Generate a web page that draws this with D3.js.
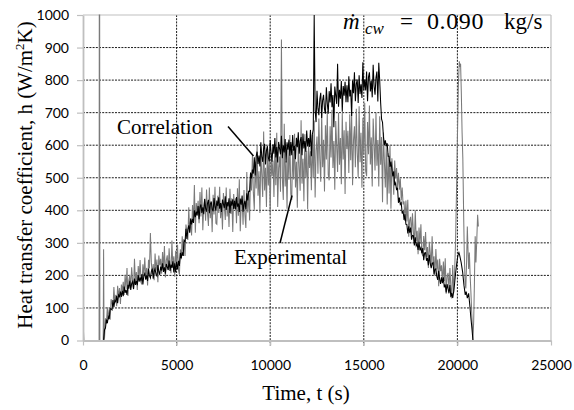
<!DOCTYPE html>
<html>
<head>
<meta charset="utf-8">
<script src="https://cdn.jsdelivr.net/npm/d3@7"></script>
<style>
  body { margin: 0; background: #fff; }
  svg { display: block; }
  .serif { font-family: 'Liberation Serif', 'DejaVu Serif', serif; }
</style>
</head>
<body>
<script>
const w = 574, h = 410;

// logged at a fixed 50 s interval
const sampleStep = 50;

const xTicks = [0, 5000, 10000, 15000, 20000, 25000];
const yTicks = [0, 100, 200, 300, 400, 500, 600, 700, 800, 900, 1000];

// Correlation, from t = 1100 s
const correlationStart = 1100;
const correlation = [
  2, 33, 38, 64, 53, 73, 66, 98, 97, 94, 124, 102, 123, 119, 137, 115, 140, 135, 150, 134,
  153, 136, 166, 146, 156, 140, 171, 159, 184, 155, 175, 181, 158, 190, 171, 183, 170, 201, 181, 194,
  182, 204, 172, 200, 206, 187, 200, 183, 221, 199, 192, 212, 221, 190, 212, 220, 203, 198, 232, 212,
  202, 227, 215, 237, 211, 225, 205, 235, 226, 217, 246, 214, 233, 223, 243, 209, 237, 210, 242, 218,
  245, 229, 269, 253, 271, 260, 308, 304, 343, 312, 341, 354, 331, 375, 357, 374, 361, 400, 379, 396,
  384, 413, 373, 409, 418, 392, 409, 388, 435, 406, 396, 421, 432, 391, 418, 427, 404, 397, 438, 411,
  399, 430, 413, 440, 405, 422, 395, 433, 420, 407, 443, 401, 425, 412, 437, 392, 429, 414, 434, 404,
  429, 403, 441, 411, 421, 395, 436, 417, 445, 396, 419, 429, 403, 452, 430, 459, 458, 516, 498, 525,
  513, 563, 507, 566, 580, 542, 568, 535, 609, 565, 549, 589, 604, 541, 584, 597, 562, 550, 615, 574,
  549, 603, 574, 622, 562, 594, 547, 610, 589, 572, 629, 560, 600, 578, 619, 547, 609, 586, 617, 568,
  610, 569, 631, 583, 598, 557, 623, 594, 640, 574, 613, 625, 569, 636, 590, 613, 580, 645, 596, 622,
  595, 647, 566, 633, 648, 1000, 707, 671, 767, 713, 692, 742, 761, 684, 738, 755, 711, 697, 778, 728,
  697, 766, 731, 790, 717, 754, 655, 780, 754, 727, 850, 718, 770, 743, 797, 703, 782, 752, 795, 732,
  784, 732, 812, 750, 770, 690, 799, 760, 824, 735, 788, 802, 730, 815, 757, 787, 745, 855, 768, 802,
  768, 826, 735, 809, 824, 765, 798, 747, 847, 781, 755, 807, 826, 734, 853, 798, 730, 680, 670, 625,
  601, 615, 597, 606, 566, 566, 533, 550, 527, 504, 520, 477, 484, 462, 470, 423, 439, 418, 423, 390,
  398, 370, 388, 357, 356, 329, 351, 331, 347, 310, 323, 322, 292, 317, 291, 297, 278, 303, 277, 285,
  268, 284, 247, 269, 270, 245, 253, 231, 263, 236, 222, 237, 239, 203, 219, 220, 197, 186, 214, 189,
  174, 194, 177, 194, 163, 172, 148, 173, 159, 145, 170, 133, 146, 131
];
const correlationTail = [
  [19800, 150], [19850, 175], [19900, 205], [19950, 230], [20000, 252], [20050, 266], [20080, 270],
  [20120, 262], [20200, 240], [20280, 210], [20350, 170], [20420, 140], [20470, 150], [20530, 130],
  [20600, 145], [20660, 110], [20720, 70], [20780, 35], [20830, 0]
];

// Experimental
const experimentalHead = [
  [0, 0], [25, 28], [50, 0], [860, 0], [870, 1000], [890, 1000], [900, 0],
  [1080, 0], [1100, 280], [1125, 0]
];
const experimentalStart = 1150;
const experimental = [
  9, 68, 52, 102, 64, 96, 64, 127, 112, 98, 164, 114, 140, 105, 168, 133, 161, 112, 172, 153,
  180, 140, 202, 158, 223, 137, 185, 202, 163, 225, 182, 159, 251, 178, 210, 155, 229, 193, 247, 178,
  172, 234, 199, 255, 191, 223, 169, 248, 221, 330, 240, 204, 235, 185, 267, 215, 249, 179, 261, 231,
  251, 205, 272, 221, 290, 194, 246, 262, 216, 283, 234, 207, 307, 225, 259, 196, 276, 234, 294, 217,
  202, 280, 250, 320, 260, 307, 260, 356, 334, 309, 409, 332, 372, 323, 416, 363, 478, 331, 422, 392,
  429, 360, 456, 381, 470, 339, 413, 435, 368, 464, 392, 352, 470, 376, 424, 333, 448, 387, 472, 360,
  357, 445, 392, 472, 376, 421, 341, 453, 413, 370, 470, 381, 424, 349, 466, 389, 437, 333, 450, 405,
  437, 360, 468, 383, 495, 336, 414, 435, 356, 462, 386, 346, 518, 393, 459, 369, 514, 461, 569, 455,
  402, 550, 467, 599, 445, 520, 392, 574, 510, 441, 642, 461, 531, 410, 601, 476, 555, 386, 577, 505,
  553, 441, 597, 477, 638, 410, 530, 565, 457, 925, 497, 432, 666, 473, 551, 405, 592, 494, 631, 450,
  432, 588, 495, 635, 470, 549, 408, 606, 536, 460, 677, 482, 558, 428, 634, 500, 583, 403, 609, 530,
  581, 462, 631, 500, 676, 439, 582, 627, 512, 682, 557, 488, 700, 532, 617, 458, 661, 556, 705, 510,
  492, 658, 562, 709, 530, 613, 463, 674, 600, 518, 700, 540, 622, 480, 700, 556, 646, 450, 672, 588,
  644, 515, 695, 554, 700, 477, 616, 658, 532, 712, 577, 502, 720, 548, 638, 469, 684, 570, 730, 520,
  505, 671, 572, 722, 541, 624, 473, 682, 605, 522, 700, 537, 616, 473, 689, 540, 625, 425, 639, 550,
  470, 598, 418, 575, 452, 601, 405, 560, 522, 448, 553, 498, 530, 472, 515, 463, 498, 430, 470, 418,
  427, 367, 430, 366, 432, 319, 369, 380, 324, 391, 332, 302, 400, 305, 337, 265, 347, 297, 357, 269,
  259, 321, 277, 333, 257, 287, 223, 303, 269, 232, 320, 231, 259, 198, 281, 218, 249, 167, 251, 213,
  231, 175, 243, 183, 253, 144, 196, 208, 154, 223, 164, 129, 232, 147
];
const experimentalTail = [
  [19850, 210], [19900, 300], [19950, 450], [20000, 620], [20050, 780], [20100, 858], [20130, 845],
  [20170, 850], [20210, 760], [20250, 640], [20290, 560], [20330, 400], [20370, 260], [20410, 180],
  [20450, 160], [20490, 240], [20530, 350], [20560, 290], [20600, 220], [20640, 270], [20680, 200],
  [20720, 150], [20770, 80], [20830, 0], [20870, 60], [20910, 180], [20950, 320], [20990, 240],
  [21030, 300], [21080, 386], [21120, 350]
];

const correlationPts = correlation.map((v, i) => [correlationStart + i * sampleStep, v]).concat(correlationTail);
const experimentalPts = experimentalHead
  .concat(experimental.map((v, i) => [experimentalStart + i * sampleStep, v]))
  .concat(experimentalTail);

const x = d3.scaleLinear().domain([0, 25000]).range([83, 551]);
const y = d3.scaleLinear().domain([0, 1000]).range([340.5, 15]);

const svg = d3.select('body').append('svg')
    .attr('width', w)
    .attr('height', h);

svg.append('clipPath').attr('id', 'plot')
  .append('rect')
    .attr('x', x(0)).attr('y', y(1000) - 1)
    .attr('width', x(25000) - x(0)).attr('height', y(0) - y(1000) + 1);

// dashed grid
svg.append('g').selectAll('line')
  .data(yTicks.slice(1, -1))
  .join('line')
    .attr('x1', x(0)).attr('x2', x(25000))
    .attr('y1', d => y(d)).attr('y2', d => y(d))
    .attr('stroke', '#000').attr('stroke-width', 0.9)
    .attr('stroke-dasharray', '2,1.2');

svg.append('g').selectAll('line')
  .data(xTicks.slice(1, -1))
  .join('line')
    .attr('x1', d => x(d)).attr('x2', d => x(d))
    .attr('y1', y(1000)).attr('y2', y(0) + 5)
    .attr('stroke', '#000').attr('stroke-width', 0.9)
    .attr('stroke-dasharray', '2,1.2');

// frame top / right
svg.append('line')
    .attr('x1', x(0)).attr('x2', x(25000)).attr('y1', y(1000)).attr('y2', y(1000))
    .attr('stroke', '#bfbfbf').attr('stroke-width', 1.2);
svg.append('line')
    .attr('x1', x(25000)).attr('x2', x(25000)).attr('y1', y(1000)).attr('y2', y(0))
    .attr('stroke', '#bfbfbf').attr('stroke-width', 1.2);

const line = d3.line().x(d => x(d[0])).y(d => y(d[1]));

svg.append('path')
    .datum(experimentalPts)
    .attr('clip-path', 'url(#plot)')
    .attr('fill', 'none')
    .attr('stroke', '#7a7a7a')
    .attr('stroke-width', 1.05)
    .attr('d', line);

svg.append('path')
    .datum(correlationPts)
    .attr('clip-path', 'url(#plot)')
    .attr('fill', 'none')
    .attr('stroke', '#000')
    .attr('stroke-width', 1.05)
    .attr('d', line);

// axes
const yAxis = svg.append('g')
    .attr('transform', `translate(${x(0)},0)`)
    .call(d3.axisLeft(y).tickValues(yTicks).tickSize(6).tickSizeOuter(0).tickPadding(8).tickFormat(d3.format('d')));
const xAxis = svg.append('g')
    .attr('transform', `translate(0,${y(0)})`)
    .call(d3.axisBottom(x).tickValues(xTicks).tickSize(5).tickSizeOuter(0).tickPadding(15).tickFormat(d3.format('d')));

[yAxis, xAxis].forEach(g => {
  g.attr('font-family', null).attr('font-size', null);
  g.select('.domain').attr('stroke', '#bfbfbf').attr('stroke-width', 1.8);
  g.selectAll('.tick line').attr('stroke', '#bfbfbf').attr('stroke-width', 1.2);
  g.selectAll('.tick text')
      .attr('fill', '#000')
      .style('font-family', 'Lato, sans-serif')
      .style('font-size', '14px');
});

svg.append('text')
    .attr('class', 'serif')
    .attr('x', 306).attr('y', 400)
    .attr('text-anchor', 'middle')
    .style('font-size', '21px')
    .text('Time, t (s)');

const yLabel = svg.append('text')
    .attr('class', 'serif')
    .attr('transform', 'translate(32,175) rotate(-90)')
    .attr('text-anchor', 'middle')
    .style('font-size', '21px');
yLabel.append('tspan').text('Heat transfer coefficient, h (W/m');
yLabel.append('tspan').attr('dy', -8).style('font-size', '13px').text('2');
yLabel.append('tspan').attr('dy', 8).text('K)');

// annotations
svg.append('text')
    .attr('class', 'serif')
    .attr('x', 117).attr('y', 134)
    .style('font-size', '21px')
    .text('Correlation');
svg.append('line')
    .attr('x1', 228).attr('y1', 126.5).attr('x2', 253.5).attr('y2', 156)
    .attr('stroke', '#000').attr('stroke-width', 1.5);

svg.append('text')
    .attr('class', 'serif')
    .attr('x', 234).attr('y', 264)
    .style('font-size', '21px')
    .text('Experimental');
svg.append('line')
    .attr('x1', 280).attr('y1', 243).attr('x2', 292).attr('y2', 195.5)
    .attr('stroke', '#000').attr('stroke-width', 1.5);

// flow rate label
const flow = svg.append('g').attr('class', 'serif');
flow.append('text').attr('x', 343).attr('y', 29)
    .style('font-style', 'italic').style('font-size', '23px').text('ṁ');
flow.append('text').attr('x', 365).attr('y', 34)
    .style('font-style', 'italic').style('font-size', '17px').text('cw');
flow.append('text').attr('x', 400).attr('y', 29)
    .style('font-size', '23px').text('=');
flow.append('text').attr('x', 427).attr('y', 29)
    .style('font-size', '24px').style('letter-spacing', '0.6px').text('0.090');
flow.append('text').attr('x', 504).attr('y', 29)
    .style('font-size', '23px').text('kg/s');
</script>
</body>
</html>
